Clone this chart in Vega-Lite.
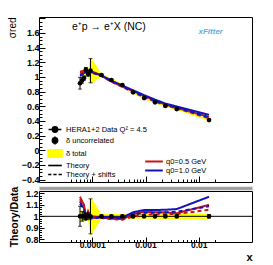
{
  "$schema": "https://vega.github.io/schema/vega-lite/v6.json",
  "background": "white",
  "padding": {"left": 6, "top": 13, "right": 10, "bottom": 0},
  "datasets": {
    "pts": [
      {"x": 5.89e-5, "y": 0.915, "ylo": 0.835, "yhi": 0.995, "blo": 0.869, "bhi": 0.961, "rlo": 0.913, "rhi": 1.087, "rblo": 0.95, "rbhi": 1.05},
      {"x": 6.47e-5, "y": 0.955, "ylo": 0.915, "yhi": 0.995, "blo": 0.907, "bhi": 1.003, "rlo": 0.958, "rhi": 1.042, "rblo": 0.95, "rbhi": 1.05},
      {"x": 7.01e-5, "y": 0.986, "ylo": 0.956, "yhi": 1.016, "blo": 0.947, "bhi": 1.025, "rlo": 0.97, "rhi": 1.03, "rblo": 0.96, "rbhi": 1.04},
      {"x": 7.59e-5, "y": 1.10, "ylo": 1.07, "yhi": 1.13, "blo": 1.056, "bhi": 1.144, "rlo": 0.973, "rhi": 1.027, "rblo": 0.96, "rbhi": 1.04},
      {"x": 8.34e-5, "y": 1.04, "ylo": 1.01, "yhi": 1.07, "blo": 0.998, "bhi": 1.082, "rlo": 0.971, "rhi": 1.029, "rblo": 0.96, "rbhi": 1.04},
      {"x": 9.27e-5, "y": 1.086, "ylo": 0.921, "yhi": 1.251, "blo": 0.901, "bhi": 1.271, "rlo": 0.848, "rhi": 1.152, "rblo": 0.83, "rbhi": 1.17},
      {"x": 1.49e-4, "y": 1.027, "ylo": 1.015, "yhi": 1.039, "blo": 1.006, "bhi": 1.048, "rlo": 0.988, "rhi": 1.012, "rblo": 0.98, "rbhi": 1.02},
      {"x": 2.29e-4, "y": 0.959, "ylo": 0.949, "yhi": 0.969, "blo": 0.94, "bhi": 0.978, "rlo": 0.99, "rhi": 1.01, "rblo": 0.98, "rbhi": 1.02},
      {"x": 3.68e-4, "y": 0.891, "ylo": 0.881, "yhi": 0.901, "blo": 0.873, "bhi": 0.909, "rlo": 0.989, "rhi": 1.011, "rblo": 0.98, "rbhi": 1.02},
      {"x": 5.85e-4, "y": 0.791, "ylo": 0.781, "yhi": 0.801, "blo": 0.775, "bhi": 0.807, "rlo": 0.987, "rhi": 1.013, "rblo": 0.98, "rbhi": 1.02},
      {"x": 9.4e-4, "y": 0.713, "ylo": 0.705, "yhi": 0.721, "blo": 0.698, "bhi": 0.728, "rlo": 0.989, "rhi": 1.011, "rblo": 0.98, "rbhi": 1.02},
      {"x": 1.51e-3, "y": 0.655, "ylo": 0.647, "yhi": 0.663, "blo": 0.641, "bhi": 0.669, "rlo": 0.988, "rhi": 1.012, "rblo": 0.98, "rbhi": 1.02},
      {"x": 2.36e-3, "y": 0.604, "ylo": 0.597, "yhi": 0.611, "blo": 0.59, "bhi": 0.618, "rlo": 0.988, "rhi": 1.012, "rblo": 0.977, "rbhi": 1.023},
      {"x": 3.86e-3, "y": 0.563, "ylo": 0.556, "yhi": 0.570, "blo": 0.549, "bhi": 0.577, "rlo": 0.988, "rhi": 1.012, "rblo": 0.975, "rbhi": 1.025},
      {"x": 0.0156, "y": 0.413, "ylo": 0.405, "yhi": 0.421, "blo": 0.401, "bhi": 0.425, "rlo": 0.985, "rhi": 1.015, "rblo": 0.975, "rbhi": 1.025}
    ],
    "th": [
      {"x": 5.89e-5, "m": "q0=0.5 GeV", "k": "Theory", "v": 1.071, "r": 1.17},
      {"x": 6.47e-5, "m": "q0=0.5 GeV", "k": "Theory", "v": 1.079, "r": 1.13},
      {"x": 7.01e-5, "m": "q0=0.5 GeV", "k": "Theory", "v": 1.085, "r": 1.10},
      {"x": 7.59e-5, "m": "q0=0.5 GeV", "k": "Theory", "v": 1.089, "r": 0.99},
      {"x": 8.34e-5, "m": "q0=0.5 GeV", "k": "Theory", "v": 1.087, "r": 1.045},
      {"x": 9.27e-5, "m": "q0=0.5 GeV", "k": "Theory", "v": 1.086, "r": 1.0},
      {"x": 1.49e-4, "m": "q0=0.5 GeV", "k": "Theory", "v": 1.017, "r": 0.99},
      {"x": 2.29e-4, "m": "q0=0.5 GeV", "k": "Theory", "v": 0.94, "r": 0.98},
      {"x": 3.68e-4, "m": "q0=0.5 GeV", "k": "Theory", "v": 0.869, "r": 0.975},
      {"x": 5.85e-4, "m": "q0=0.5 GeV", "k": "Theory", "v": 0.807, "r": 1.02},
      {"x": 9.4e-4, "m": "q0=0.5 GeV", "k": "Theory", "v": 0.742, "r": 1.04},
      {"x": 1.51e-3, "m": "q0=0.5 GeV", "k": "Theory", "v": 0.678, "r": 1.035},
      {"x": 2.36e-3, "m": "q0=0.5 GeV", "k": "Theory", "v": 0.625, "r": 1.035},
      {"x": 3.86e-3, "m": "q0=0.5 GeV", "k": "Theory", "v": 0.578, "r": 1.026},
      {"x": 0.0156, "m": "q0=0.5 GeV", "k": "Theory", "v": 0.454, "r": 1.10},
      {"x": 5.89e-5, "m": "q0=1.0 GeV", "k": "Theory", "v": 1.034, "r": 1.13},
      {"x": 6.47e-5, "m": "q0=1.0 GeV", "k": "Theory", "v": 1.041, "r": 1.09},
      {"x": 7.01e-5, "m": "q0=1.0 GeV", "k": "Theory", "v": 1.055, "r": 1.07},
      {"x": 7.59e-5, "m": "q0=1.0 GeV", "k": "Theory", "v": 1.062, "r": 0.965},
      {"x": 8.34e-5, "m": "q0=1.0 GeV", "k": "Theory", "v": 1.066, "r": 1.025},
      {"x": 9.27e-5, "m": "q0=1.0 GeV", "k": "Theory", "v": 1.07, "r": 0.985},
      {"x": 1.49e-4, "m": "q0=1.0 GeV", "k": "Theory", "v": 1.022, "r": 0.995},
      {"x": 2.29e-4, "m": "q0=1.0 GeV", "k": "Theory", "v": 0.949, "r": 0.99},
      {"x": 3.68e-4, "m": "q0=1.0 GeV", "k": "Theory", "v": 0.882, "r": 0.99},
      {"x": 5.85e-4, "m": "q0=1.0 GeV", "k": "Theory", "v": 0.819, "r": 1.035},
      {"x": 9.4e-4, "m": "q0=1.0 GeV", "k": "Theory", "v": 0.752, "r": 1.055},
      {"x": 1.51e-3, "m": "q0=1.0 GeV", "k": "Theory", "v": 0.691, "r": 1.055},
      {"x": 2.36e-3, "m": "q0=1.0 GeV", "k": "Theory", "v": 0.638, "r": 1.057},
      {"x": 3.86e-3, "m": "q0=1.0 GeV", "k": "Theory", "v": 0.598, "r": 1.063},
      {"x": 0.0156, "m": "q0=1.0 GeV", "k": "Theory", "v": 0.483, "r": 1.17},
      {"x": 5.89e-5, "m": "q0=0.5 GeV", "k": "Theory + shifts", "v": 1.052, "r": 1.15},
      {"x": 6.47e-5, "m": "q0=0.5 GeV", "k": "Theory + shifts", "v": 1.060, "r": 1.11},
      {"x": 7.01e-5, "m": "q0=0.5 GeV", "k": "Theory + shifts", "v": 1.065, "r": 1.08},
      {"x": 7.59e-5, "m": "q0=0.5 GeV", "k": "Theory + shifts", "v": 1.078, "r": 0.98},
      {"x": 8.34e-5, "m": "q0=0.5 GeV", "k": "Theory + shifts", "v": 1.071, "r": 1.03},
      {"x": 9.27e-5, "m": "q0=0.5 GeV", "k": "Theory + shifts", "v": 1.075, "r": 0.99},
      {"x": 1.49e-4, "m": "q0=0.5 GeV", "k": "Theory + shifts", "v": 1.012, "r": 0.985},
      {"x": 2.29e-4, "m": "q0=0.5 GeV", "k": "Theory + shifts", "v": 0.935, "r": 0.975},
      {"x": 3.68e-4, "m": "q0=0.5 GeV", "k": "Theory + shifts", "v": 0.864, "r": 0.97},
      {"x": 5.85e-4, "m": "q0=0.5 GeV", "k": "Theory + shifts", "v": 0.791, "r": 1.0},
      {"x": 9.4e-4, "m": "q0=0.5 GeV", "k": "Theory + shifts", "v": 0.724, "r": 1.015},
      {"x": 1.51e-3, "m": "q0=0.5 GeV", "k": "Theory + shifts", "v": 0.665, "r": 1.015},
      {"x": 2.36e-3, "m": "q0=0.5 GeV", "k": "Theory + shifts", "v": 0.616, "r": 1.02},
      {"x": 3.86e-3, "m": "q0=0.5 GeV", "k": "Theory + shifts", "v": 0.574, "r": 1.02},
      {"x": 0.0156, "m": "q0=0.5 GeV", "k": "Theory + shifts", "v": 0.437, "r": 1.057},
      {"x": 5.89e-5, "m": "q0=1.0 GeV", "k": "Theory + shifts", "v": 1.016, "r": 1.11},
      {"x": 6.47e-5, "m": "q0=1.0 GeV", "k": "Theory + shifts", "v": 1.031, "r": 1.08},
      {"x": 7.01e-5, "m": "q0=1.0 GeV", "k": "Theory + shifts", "v": 1.045, "r": 1.06},
      {"x": 7.59e-5, "m": "q0=1.0 GeV", "k": "Theory + shifts", "v": 1.056, "r": 0.96},
      {"x": 8.34e-5, "m": "q0=1.0 GeV", "k": "Theory + shifts", "v": 1.056, "r": 1.015},
      {"x": 9.27e-5, "m": "q0=1.0 GeV", "k": "Theory + shifts", "v": 1.064, "r": 0.98},
      {"x": 1.49e-4, "m": "q0=1.0 GeV", "k": "Theory + shifts", "v": 1.017, "r": 0.99},
      {"x": 2.29e-4, "m": "q0=1.0 GeV", "k": "Theory + shifts", "v": 0.945, "r": 0.985},
      {"x": 3.68e-4, "m": "q0=1.0 GeV", "k": "Theory + shifts", "v": 0.878, "r": 0.985},
      {"x": 5.85e-4, "m": "q0=1.0 GeV", "k": "Theory + shifts", "v": 0.803, "r": 1.015},
      {"x": 9.4e-4, "m": "q0=1.0 GeV", "k": "Theory + shifts", "v": 0.734, "r": 1.03},
      {"x": 1.51e-3, "m": "q0=1.0 GeV", "k": "Theory + shifts", "v": 0.675, "r": 1.03},
      {"x": 2.36e-3, "m": "q0=1.0 GeV", "k": "Theory + shifts", "v": 0.625, "r": 1.035},
      {"x": 3.86e-3, "m": "q0=1.0 GeV", "k": "Theory + shifts", "v": 0.585, "r": 1.04},
      {"x": 0.0156, "m": "q0=1.0 GeV", "k": "Theory + shifts", "v": 0.449, "r": 1.087}
    ]
  },
  "vconcat": [
    {
      "width": 213,
      "height": 165,
      "resolve": {"scale": {"strokeDash": "independent"}},
      "layer": [
        {
          "data": {"name": "pts"},
          "mark": {"type": "area", "color": "#ffff00", "opacity": 1},
          "encoding": {
            "x": {"field": "x", "type": "quantitative",
              "scale": {"type": "log", "domain": [3.22e-5, 0.0279]},
              "axis": {"title": null, "labels": false, "ticks": true, "labelOverlap": false, "tickCount": 1000,
                "values": [4e-5,5e-5,6e-5,7e-5,8e-5,9e-5,1e-4,2e-4,3e-4,4e-4,5e-4,6e-4,7e-4,8e-4,9e-4,1e-3,2e-3,3e-3,4e-3,5e-3,6e-3,7e-3,8e-3,9e-3,0.01,0.02],
                "tickSize": {"condition": {"test": "abs(log(datum.value)/LN10 - round(log(datum.value)/LN10)) < 0.001", "value": -6}, "value": -3}}},
            "y": {"field": "blo", "type": "quantitative", "title": "σred",
              "scale": {"domain": [-0.432, 1.818], "nice": false, "zero": false},
              "axis": {"title": "σred", "titleAnchor": "end", "titleFontSize": 10, "titleFontWeight": "normal", "titlePadding": 4,
                "ticks": true, "labelOverlap": false, "tickCount": 1000,
                "values": [-0.4,-0.35,-0.3,-0.25,-0.2,-0.15,-0.1,-0.05,0,0.05,0.1,0.15,0.2,0.25,0.3,0.35,0.4,0.45,0.5,0.55,0.6,0.65,0.7,0.75,0.8,0.85,0.9,0.95,1,1.05,1.1,1.15,1.2,1.25,1.3,1.35,1.4,1.45,1.5,1.55,1.6,1.65,1.7,1.75,1.8],
                "labelExpr": "abs(datum.value*5 - round(datum.value*5)) < 0.001 && datum.value < 1.7 ? format(datum.value, '~g') : ''",
                "labelFontSize": 9, "labelPadding": 6,
                "tickSize": {"condition": {"test": "abs(datum.value*5 - round(datum.value*5)) < 0.001", "value": -6}, "value": -3}}},
            "y2": {"field": "bhi"}
          }
        },
        {
          "data": {"name": "th"},
          "mark": {"type": "line", "strokeWidth": 2},
          "encoding": {
            "x": {"field": "x", "type": "quantitative", "title": null},
            "y": {"field": "v", "type": "quantitative", "title": "σred"},
            "color": {"field": "m", "type": "nominal",
              "scale": {"domain": ["q0=0.5 GeV", "q0=1.0 GeV"], "range": ["#c81414", "#1414b4"]},
              "legend": {"title": null, "orient": "none", "legendX": 110, "legendY": 139.5, "padding": 0,
                "symbolType": "M-2.2,0H2.2", "symbolSize": 64, "symbolStrokeWidth": 2,
                "labelFont": "Liberation Sans", "labelFontSize": 7.5, "labelColor": "black", "labelOffset": 7, "rowPadding": -5}},
            "strokeDash": {"field": "k", "type": "nominal",
              "scale": {"domain": ["Theory", "Theory + shifts"], "range": [[1, 0], [4, 3]]}, "legend": null}
          }
        },
        {
          "data": {"name": "pts"},
          "mark": {"type": "errorbar", "color": "black", "ticks": true, "size": 4, "thickness": 1},
          "encoding": {
            "x": {"field": "x", "type": "quantitative", "title": null},
            "y": {"field": "ylo", "type": "quantitative", "title": "σred"},
            "y2": {"field": "yhi"}
          }
        },
        {
          "data": {"name": "pts"},
          "mark": {"type": "circle", "color": "black", "size": 22, "opacity": 1},
          "encoding": {
            "x": {"field": "x", "type": "quantitative", "title": null},
            "y": {"field": "y", "type": "quantitative", "title": "σred"}
          }
        },
        {
          "data": {"values": []},
          "mark": {"type": "point", "filled": true, "opacity": 1, "strokeWidth": 1.6},
          "encoding": {
            "shape": {"field": "item", "type": "nominal",
              "scale": {"domain": ["HERA1+2 Data Q² = 4.5", "δ uncorrelated", "δ total", "Theory", "Theory + shifts"],
                "range": ["M-1.6,0H1.6M0.65,0A0.65,0.65,0,1,1,-0.65,0A0.65,0.65,0,1,1,0.65,0Z",
                  "M0,-1V1M0.65,0A0.65,0.65,0,1,1,-0.65,0A0.65,0.65,0,1,1,0.65,0Z",
                  "M-1.75,-0.9H1.75V0.9H-1.75Z",
                  "M-1.7,0H1.7",
                  "M-1.7,0H-0.9M-0.4,0H0.4M0.9,0H1.7"]},
              "legend": {"title": null, "orient": "none", "legendX": 11, "legendY": 107.5, "padding": 0,
                "symbolSize": 64, "symbolStrokeWidth": 1.6,
                "labelFont": "Liberation Sans", "labelFontSize": 7.5, "labelColor": "black", "labelOffset": 6, "rowPadding": -4.5}},
            "fill": {"field": "item", "type": "nominal",
              "scale": {"domain": ["HERA1+2 Data Q² = 4.5", "δ uncorrelated", "δ total", "Theory", "Theory + shifts"],
                "range": ["black", "black", "#ffff00", "transparent", "transparent"]}},
            "stroke": {"field": "item", "type": "nominal",
              "scale": {"domain": ["HERA1+2 Data Q² = 4.5", "δ uncorrelated", "δ total", "Theory", "Theory + shifts"],
                "range": ["black", "black", "#ffff00", "black", "black"]}}
          }
        },
        {
          "data": {"values": [{}]},
          "mark": {"type": "text", "text": "e⁺p → e⁺X (NC)", "align": "left", "baseline": "middle", "font": "Liberation Sans", "fontSize": 10.5, "color": "black"},
          "encoding": {
            "x": {"datum": 4.15e-5, "type": "quantitative"},
            "y": {"datum": 1.682, "type": "quantitative"}
          }
        },
        {
          "data": {"values": [{}]},
          "mark": {"type": "text", "text": "xFitter", "align": "center", "baseline": "middle", "font": "Liberation Sans", "fontSize": 8, "fontStyle": "italic", "fontWeight": "bold", "color": "#5aaee0"},
          "encoding": {
            "x": {"datum": 0.0168, "type": "quantitative"},
            "y": {"datum": 1.617, "type": "quantitative"}
          }
        }
      ]
    },
    {
      "width": 213,
      "height": 51,
      "resolve": {"axis": {"x": "independent"}},
      "layer": [
        {
          "data": {"name": "pts"},
          "mark": {"type": "area", "color": "#ffff00", "opacity": 1},
          "encoding": {
            "x": {"field": "x", "type": "quantitative", "title": "x",
              "scale": {"type": "log", "domain": [3.22e-5, 0.0279]},
              "axis": {"title": "x", "titleAnchor": "end", "titleFontSize": 11, "titleFontWeight": "bold", "titlePadding": 0,
                "ticks": true, "labelOverlap": false, "tickCount": 1000, "orient": "bottom",
                "values": [4e-5,5e-5,6e-5,7e-5,8e-5,9e-5,1e-4,2e-4,3e-4,4e-4,5e-4,6e-4,7e-4,8e-4,9e-4,1e-3,2e-3,3e-3,4e-3,5e-3,6e-3,7e-3,8e-3,9e-3,0.01,0.02],
                "labelExpr": "abs(log(datum.value)/LN10 - round(log(datum.value)/LN10)) < 0.001 ? format(datum.value, '~g') : ''",
                "labelFontSize": 8.5, "labelPadding": 3,
                "tickSize": {"condition": {"test": "abs(log(datum.value)/LN10 - round(log(datum.value)/LN10)) < 0.001", "value": -5}, "value": -2.5}}},
            "y": {"field": "rblo", "type": "quantitative", "title": "Theory/Data",
              "scale": {"domain": [0.777, 1.22], "nice": false, "zero": false},
              "axis": {"title": "Theory/Data", "titleFontSize": 10.5, "titleFontWeight": "bold", "titlePadding": 6,
                "ticks": true, "labelOverlap": false, "tickCount": 1000,
                "values": [0.78,0.8,0.82,0.84,0.86,0.88,0.9,0.92,0.94,0.96,0.98,1,1.02,1.04,1.06,1.08,1.1,1.12,1.14,1.16,1.18,1.2,1.22],
                "labelExpr": "abs(datum.value*10 - round(datum.value*10)) < 0.001 ? format(datum.value, '~g') : ''",
                "labelFontSize": 9, "labelPadding": 6,
                "tickSize": {"condition": {"test": "abs(datum.value*10 - round(datum.value*10)) < 0.001", "value": -5}, "value": -2.5}}},
            "y2": {"field": "rbhi"}
          }
        },
        {
          "data": {"values": [{}]},
          "mark": {"type": "rule", "strokeOpacity": 0},
          "encoding": {
            "x": {"datum": 1e-4, "type": "quantitative",
              "axis": {"orient": "top", "title": null, "labels": false, "ticks": false, "domain": true,
                "domainColor": "#a0a0a0", "domainWidth": 3.5, "offset": 3}}
          }
        },
        {
          "data": {"values": [{}]},
          "mark": {"type": "rule", "color": "black", "strokeWidth": 1},
          "encoding": {"y": {"datum": 1, "type": "quantitative"}}
        },
        {
          "data": {"name": "th"},
          "mark": {"type": "line", "strokeWidth": 2},
          "encoding": {
            "x": {"field": "x", "type": "quantitative", "axis": null},
            "y": {"field": "r", "type": "quantitative", "title": "Theory/Data"},
            "color": {"field": "m", "type": "nominal",
              "scale": {"domain": ["q0=0.5 GeV", "q0=1.0 GeV"], "range": ["#c81414", "#1414b4"]}, "legend": null},
            "strokeDash": {"field": "k", "type": "nominal",
              "scale": {"domain": ["Theory", "Theory + shifts"], "range": [[1, 0], [4, 3]]}, "legend": null}
          }
        },
        {
          "data": {"name": "pts"},
          "mark": {"type": "errorbar", "color": "black", "ticks": true, "size": 4, "thickness": 1},
          "encoding": {
            "x": {"field": "x", "type": "quantitative", "axis": null},
            "y": {"field": "rlo", "type": "quantitative", "title": "Theory/Data"},
            "y2": {"field": "rhi"}
          }
        },
        {
          "data": {"name": "pts"},
          "mark": {"type": "circle", "color": "black", "size": 22, "opacity": 1},
          "encoding": {
            "x": {"field": "x", "type": "quantitative", "axis": null},
            "y": {"datum": 1, "type": "quantitative", "title": "Theory/Data"}
          }
        }
      ]
    }
  ],
  "spacing": 9,
  "bounds": "flush",
  "resolve": {"scale": {"color": "independent", "strokeDash": "independent"}, "legend": {"color": "independent"}},
  "config": {
    "view": {"stroke": "black", "strokeWidth": 1},
    "axis": {"labelFont": "Liberation Sans", "labelFontWeight": "bold", "labelColor": "black", "tickColor": "black",
      "domain": false, "grid": false, "titleFont": "Liberation Sans", "titleColor": "black", "labelOverlap": false, "labelBound": false}
  }
}
